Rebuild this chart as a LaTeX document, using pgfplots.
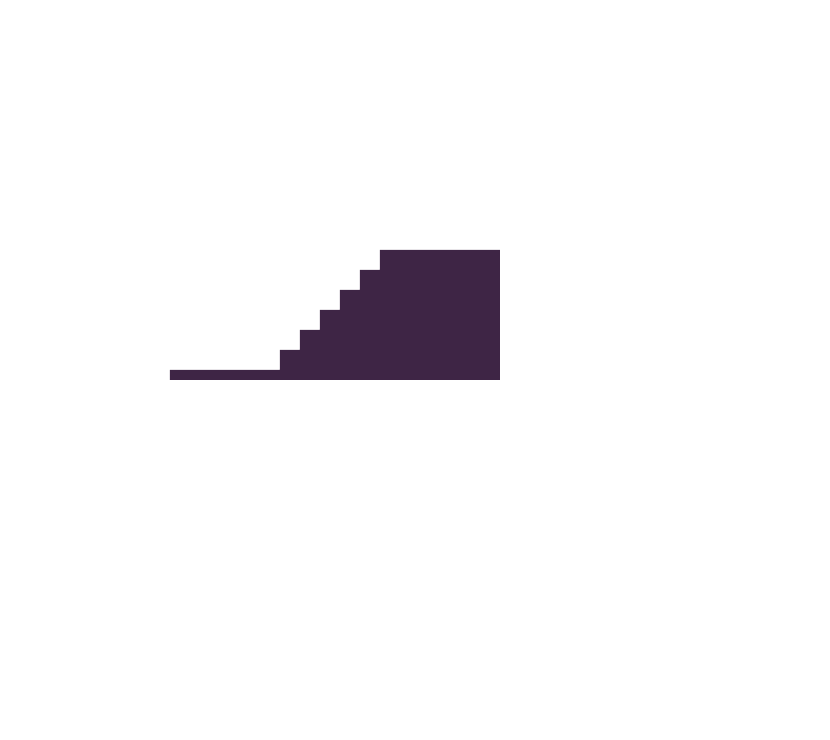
\documentclass[border=0pt]{standalone}
\usepackage{pgfplots}
\pgfplotsset{compat=1.18}
\definecolor{stepfill}{RGB}{62,37,69}

\begin{document}
\begin{tikzpicture}
\begin{axis}[
    scale only axis,
    width=8.3cm, height=7.4cm,
    xmin=0, xmax=830,
    ymin=0, ymax=740,
    axis line style={draw=none},
    ticks=none,
]

% staircase outline (pixel units, y measured from the bottom)
\addplot[fill=stepfill, draw=none] coordinates {
    (170,360) (170,370) (280,370) (280,390) (300,390) (300,410)
    (320,410) (320,430) (340,430) (340,450) (360,450) (360,470)
    (380,470) (380,490) (500,490) (500,360)
} -- cycle;

\end{axis}
\end{tikzpicture}
\end{document}
